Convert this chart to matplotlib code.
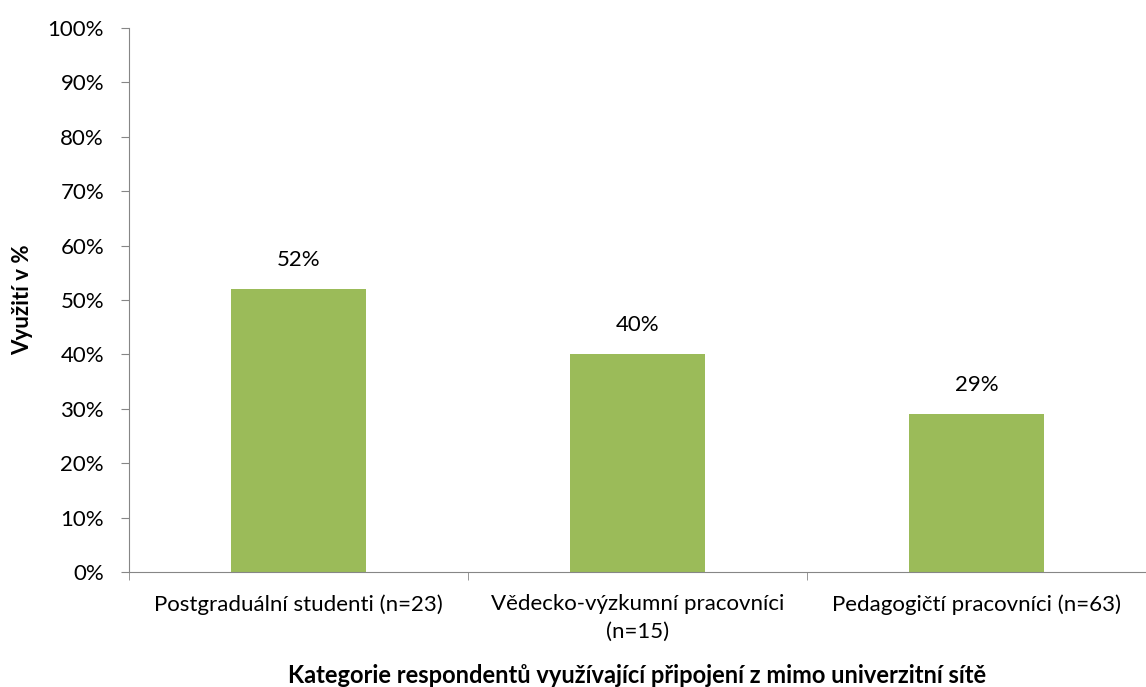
import matplotlib
matplotlib.use("Agg")
import matplotlib.pyplot as plt
from matplotlib.ticker import PercentFormatter

plt.rcParams['font.family'] = ['Lato', 'DejaVu Sans']

categories = ['Postgraduální studenti (n=23)', 'Vědecko-výzkumní pracovníci\n(n=15)', 'Pedagogičtí pracovníci (n=63)']
values = [52, 40, 29]
labels = ['52%', '40%', '29%']

fig = plt.figure(figsize=(11.46, 6.87), dpi=100)
ax = fig.add_axes([129 / 1146, 1 - 572 / 687, 1 - 129 / 1146, 544 / 687])

x = list(range(len(categories)))
ax.bar(x, values, width=0.4, color='#9BBB59')
for xi, v, lab in zip(x, values, labels):
    ax.text(xi, v + 3.6, lab, ha='center', va='bottom', fontsize=16)

ax.set_xlim(-0.5, 2.5)
ax.set_ylim(0, 100)
ax.set_yticks(range(0, 101, 10))
ax.yaxis.set_major_formatter(PercentFormatter(decimals=0))
ax.set_xticks(x)
ax.set_xticklabels(categories, fontsize=16, linespacing=1.45)
ax.set_xticks([-0.5, 0.5, 1.5, 2.5], minor=True)
ax.tick_params(axis='x', which='major', length=0, pad=16)
ax.tick_params(axis='x', which='minor', length=6, color='#868686')
ax.tick_params(axis='y', labelsize=16, length=6, color='#868686', direction='out', pad=12)

for s in ['top', 'right']:
    ax.spines[s].set_visible(False)
for s in ['left', 'bottom']:
    ax.spines[s].set_color('#868686')

ax.set_ylabel('Využití v %', fontsize=16, fontweight='bold', labelpad=10)
ax.set_xlabel('Kategorie respondentů využívající připojení z mimo univerzitní sítě', fontsize=17, fontweight='bold', labelpad=16)

fig.savefig('out.png', dpi=100)
